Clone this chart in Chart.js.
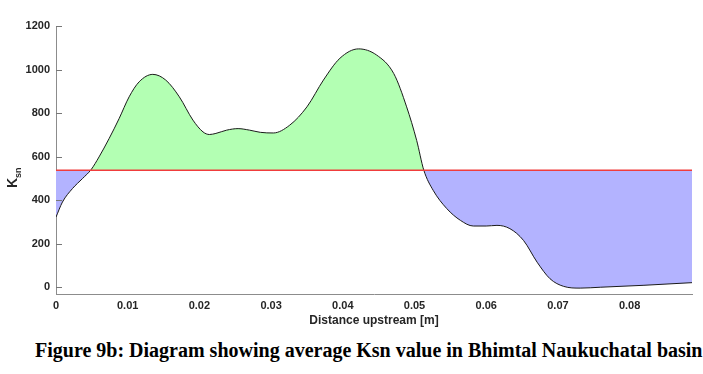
<!DOCTYPE html>
<html>
<head>
<meta charset="utf-8">
<script src="https://cdn.jsdelivr.net/npm/chart.js@4.4.1/dist/chart.umd.min.js"></script>
<style>
  html, body { margin: 0; padding: 0; background: #fff; }
  #wrap { position: relative; width: 703px; height: 374px; }
  #chart { position: absolute; left: 0; top: 0; }
  #caption {
    position: absolute; left: 35px; top: 339px; white-space: nowrap;
    font-family: "Liberation Serif", "Times New Roman", serif;
    font-weight: bold; font-size: 20px; color: #000;
  }
</style>
</head>
<body>
<div id="wrap">
  <canvas id="chart" width="703" height="335"></canvas>
  <div id="caption">Figure 9b: Diagram showing average Ksn value in Bhimtal Naukuchatal basin</div>
</div>
<script>
// values
const distance = [0, 0.0009, 0.0023, 0.0037, 0.0049, 0.006, 0.0074, 0.0088, 0.0102, 0.0116,
  0.0135, 0.0153, 0.0172, 0.0191, 0.0205, 0.0214, 0.0223, 0.0238, 0.0254, 0.0270,
  0.0285, 0.0303, 0.0326, 0.035, 0.0373, 0.0396, 0.0422, 0.0447, 0.0471, 0.0489,
  0.0503, 0.0513, 0.0526, 0.0545, 0.0564, 0.0582, 0.0600, 0.0615, 0.0633, 0.0652,
  0.0671, 0.0689, 0.0708, 0.0731, 0.0759, 0.082, 0.0887];
const ksn = [323, 392, 454, 500, 541, 599, 683, 775, 875, 944,
  978, 952, 875, 768, 714, 702, 707, 722, 729, 722,
  712, 709, 745, 829, 952, 1052, 1095, 1067, 982, 829,
  675, 538, 446, 362, 308, 282, 282, 285, 270, 216,
  116, 40, 5, -3, 1, 10, 22];
const avgKsn = 538;
const xTicks = [0, 0.01, 0.02, 0.03, 0.04, 0.05, 0.06, 0.07, 0.08];
const yTicks = [0, 200, 400, 600, 800, 1000, 1200];

const xMax = distance[distance.length - 1];
const tickFont = {family: 'Liberation Sans, Arial, sans-serif', size: 11, weight: 'bold'};

// MATLAB style inward tick marks + K_sn label with subscript
const axisExtras = {
  id: 'axisExtras',
  afterDraw(chart) {
    const c = chart.ctx;
    const ys = chart.scales.y;
    const area = chart.chartArea;
    c.save();
    c.strokeStyle = '#777';
    c.lineWidth = 1;
    c.beginPath();
    yTicks.forEach(v => {
      const py = Math.round(ys.getPixelForValue(v)) + 0.5;
      c.moveTo(area.left, py);
      c.lineTo(area.left + 6, py);
    });
    c.stroke();
    c.translate(17, 176);
    c.rotate(-Math.PI / 2);
    c.fillStyle = '#262626';
    c.textBaseline = 'alphabetic';
    c.font = 'bold 14px Liberation Sans, Arial, sans-serif';
    c.fillText('K', -12, 0);
    const kw = c.measureText('K').width;
    c.font = 'bold 9px Liberation Sans, Arial, sans-serif';
    c.fillText('sn', -12 + kw, 4);
    c.restore();
  }
};

new Chart(document.getElementById('chart'), {
  type: 'line',
  data: {
    datasets: [
      {
        label: 'Ksn',
        data: distance.map((d, i) => ({x: d, y: ksn[i]})),
        borderColor: '#1a1a1a',
        borderWidth: 1,
        pointRadius: 0,
        cubicInterpolationMode: 'monotone',
        fill: {target: {value: avgKsn}, above: 'rgb(179,255,179)', below: 'rgb(179,179,255)'},
        order: 1
      },
      {
        label: 'Average',
        data: [{x: 0, y: avgKsn}, {x: xMax, y: avgKsn}],
        borderColor: '#f03c3c',
        borderWidth: 1.5,
        pointRadius: 0,
        fill: false,
        order: 0
      }
    ]
  },
  options: {
    responsive: false,
    animation: false,
    layout: {padding: {left: 0, right: 11, top: 26, bottom: 7}},
    plugins: {legend: {display: false}, tooltip: {enabled: false}},
    scales: {
      x: {
        type: 'linear',
        min: 0,
        max: xMax,
        afterBuildTicks: s => { s.ticks = xTicks.map(v => ({value: v})); },
        afterFit: s => { s.height = 34; },
        grid: {drawOnChartArea: false, drawTicks: false},
        border: {color: '#8c8c8c'},
        ticks: {color: '#262626', font: tickFont, padding: 5, maxRotation: 0,
          callback: v => String(v)},
        title: {display: true, text: 'Distance upstream [m]', color: '#262626',
          font: {family: 'Liberation Sans, Arial, sans-serif', size: 12, weight: 'bold'},
          padding: {top: 1, bottom: 0}}
      },
      y: {
        type: 'linear',
        min: -30,
        max: 1200,
        afterBuildTicks: s => { s.ticks = yTicks.map(v => ({value: v})); },
        afterFit: s => { s.width = 56; },
        grid: {drawOnChartArea: false, drawTicks: false},
        border: {color: '#8c8c8c'},
        ticks: {color: '#262626', font: tickFont, padding: 6, callback: v => String(v)}
      }
    }
  },
  plugins: [axisExtras]
});
</script>
</body>
</html>
